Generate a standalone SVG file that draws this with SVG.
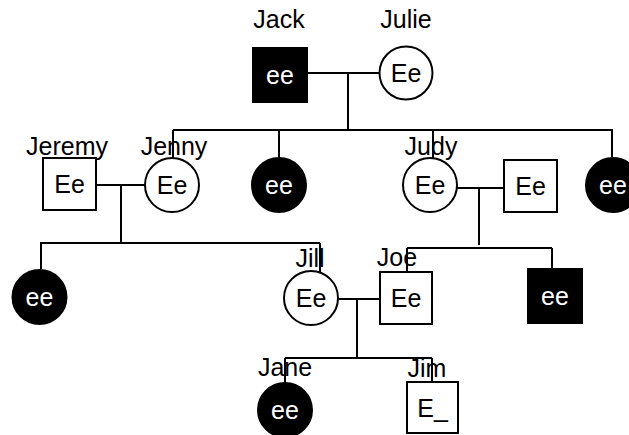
<svg xmlns="http://www.w3.org/2000/svg" width="629" height="435" viewBox="0 0 629 435">
<style>
.sh{stroke:#000;stroke-width:2;fill:#fff}
.af{fill:#000;stroke:#000;stroke-width:2}
.lbl{font-family:"Liberation Sans",Arial,sans-serif;font-size:25px;fill:#000;text-anchor:middle}
.gt{font-family:"Liberation Sans",Arial,sans-serif;font-size:25px;fill:#000;text-anchor:middle}
.gw{font-family:"Liberation Sans",Arial,sans-serif;font-size:25px;fill:#fff;text-anchor:middle}
.ln{stroke:#000;stroke-width:2;fill:none}
</style>
<rect width="629" height="435" fill="#fff"/>
<g id="connectors" class="ln">
<path d="M307 73H380M348 73V130M173 130H613M173 130V158M279 130V157M433 130V158M612 130V157"/>
<path d="M96 185H145M121 185V243M40 243H320M41 243V269M320 243V273"/>
<path d="M457 188H504M479 188V245M407 248H552M407 248V272M552 248V269"/>
<path d="M338 299H380M357 299V358M285 358H432M285 358V382M432 358V382"/>
</g>
<g id="jack"><rect class="af" x="253" y="48" width="54" height="54"/><text class="gw" x="280" y="84">ee</text><text class="lbl" x="279" y="28">Jack</text></g>
<g id="julie"><circle class="sh" cx="406" cy="73" r="26.5"/><text class="gt" x="406" y="82">Ee</text><text class="lbl" x="406" y="28">Julie</text></g>
<g id="jeremy"><rect class="sh" x="43" y="158" width="53" height="52"/><text class="gt" x="69.5" y="193">Ee</text><text class="lbl" x="67" y="155">Jeremy</text></g>
<g id="jenny"><circle class="sh" cx="172" cy="185" r="27"/><text class="gt" x="172" y="194">Ee</text><text class="lbl" x="174" y="155">Jenny</text></g>
<g id="child1"><circle class="af" cx="279" cy="185" r="27"/><text class="gw" x="279" y="194">ee</text></g>
<g id="judy"><circle class="sh" cx="430" cy="185" r="27"/><text class="gt" x="430" y="194">Ee</text><text class="lbl" x="431" y="155">Judy</text></g>
<g id="judy-husband"><rect class="sh" x="504" y="160" width="53" height="52"/><text class="gt" x="530.5" y="195">Ee</text></g>
<g id="child2"><circle class="af" cx="613" cy="185" r="27"/><text class="gw" x="613" y="194">ee</text></g>
<g id="child3"><circle class="af" cx="39.5" cy="297" r="27"/><text class="gw" x="39.5" y="306">ee</text></g>
<g id="jill"><circle class="sh" cx="311" cy="298" r="27"/><text class="gt" x="311" y="307">Ee</text><text class="lbl" x="310" y="267">Jill</text></g>
<g id="joe"><rect class="sh" x="380" y="272" width="52" height="52"/><text class="gt" x="406" y="307">Ee</text><text class="lbl" x="397" y="266">Joe</text></g>
<g id="child4"><rect class="af" x="528" y="269" width="54" height="54"/><text class="gw" x="555" y="305">ee</text></g>
<g id="jane"><circle class="af" cx="285" cy="410" r="27"/><text class="gw" x="285" y="419">ee</text><text class="lbl" x="285" y="376">Jane</text></g>
<g id="jim"><rect class="sh" x="407" y="382" width="51" height="51"/><text class="gt" x="432.5" y="417">E_</text><text class="lbl" x="427" y="377">Jim</text></g>
</svg>
